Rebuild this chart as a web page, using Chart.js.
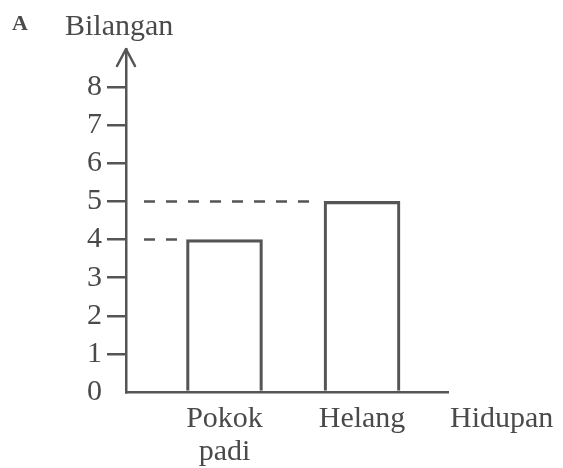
<!DOCTYPE html>
<html><head><meta charset="utf-8">
<script src="https://cdn.jsdelivr.net/npm/chart.js@4"></script>
<style>html,body{margin:0;padding:0;background:#fff;}canvas{display:block;}</style>
</head><body>
<canvas id="c" width="563" height="468"></canvas>
<script>
const categories = ['Pokok padi', 'Helang'];
const counts = [4, 5];
const yTickValues = [0, 1, 2, 3, 4, 5, 6, 7, 8];
const panelLabel = 'A';
const yTitle = 'Bilangan';
const xTitle = 'Hidupan';

const INK = '#555555';
const TEXT = '#4a4a4a';
const FONT = "'Liberation Serif', 'Times New Roman', serif";

const overlay = {
  id: 'overlay',
  afterDraw(chart) {
    const {ctx, chartArea, scales} = chart;
    const y = scales.y;
    const left = chartArea.left;
    ctx.save();
    ctx.strokeStyle = INK; ctx.lineWidth = 2.5; ctx.lineCap = 'round'; ctx.lineJoin = 'round';
    ctx.beginPath();
    ctx.moveTo(left - 9, chartArea.top + 17);
    ctx.lineTo(left, chartArea.top);
    ctx.lineTo(left + 9, chartArea.top + 17);
    ctx.stroke();
    const meta = chart.getDatasetMeta(0);
    ctx.setLineDash([11, 11]); ctx.lineCap = 'butt';
    meta.data.forEach((bar, i) => {
      const py = y.getPixelForValue(counts[i]);
      const x0 = left + 18, x1 = bar.x - bar.width / 2 - 6;
      ctx.beginPath(); ctx.moveTo(x0, py); ctx.lineTo(x1, py); ctx.stroke();
    });
    ctx.setLineDash([]);
    ctx.fillStyle = TEXT; ctx.textBaseline = 'alphabetic'; ctx.textAlign = 'left';
    ctx.font = `bold 22px ${FONT}`; ctx.fillText(panelLabel, 12, 30);
    ctx.font = `30px ${FONT}`; ctx.fillText(yTitle, 65, 35);
    ctx.fillText(xTitle, chartArea.right + 2, 427);
    ctx.restore();
  }
};

new Chart(document.getElementById('c'), {
  type: 'bar',
  data: {
    datasets: [{
      data: counts.map((v, i) => ({x: i + 1, y: v})),
      backgroundColor: 'rgba(0,0,0,0)',
      borderColor: INK,
      borderWidth: 2.5,
      borderSkipped: 'bottom',
      barThickness: 76
    }]
  },
  options: {
    responsive: false,
    animation: false,
    devicePixelRatio: 1,
    layout: {padding: {top: 49, right: 115, bottom: 0, left: 0}},
    plugins: {legend: {display: false}, tooltip: {enabled: false}, title: {display: false}},
    scales: {
      x: {
        type: 'linear',
        offset: false,
        min: 0.284, max: 2.625,
        afterBuildTicks: s => { s.ticks = categories.map((c, i) => ({value: i + 1})); },
        afterFit: s => { s.height = 76; },
        ticks: {
          callback: v => categories[v - 1].split(' '),
          font: {family: FONT, size: 30, lineHeight: 1.1},
          color: TEXT, padding: 3, maxRotation: 0, autoSkip: false
        },
        grid: {display: false, offset: false},
        border: {display: true, color: INK, width: 2.5}
      },
      y: {
        min: 0, max: 9,
        afterBuildTicks: s => { s.ticks = yTickValues.map(v => ({value: v})); },
        afterFit: s => { s.width = 126; },
        ticks: {
          callback: v => String(v),
          font: {family: FONT, size: 30},
          color: TEXT, padding: 5
        },
        grid: {
          drawOnChartArea: false, drawTicks: true, tickLength: 19, lineWidth: 2.5,
          color: c => (c.tick && c.tick.value === 0) ? 'rgba(0,0,0,0)' : INK
        },
        border: {display: true, color: INK, width: 2.5}
      }
    }
  },
  plugins: [overlay]
});
</script>
</body></html>
